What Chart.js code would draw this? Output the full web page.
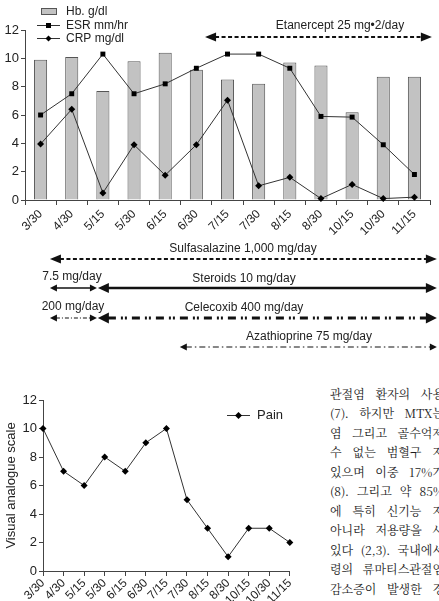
<!DOCTYPE html>
<html>
<head>
<meta charset="utf-8">
<script src="https://cdn.jsdelivr.net/npm/chart.js@4/dist/chart.umd.min.js"></script>
<style>
  html, body { margin: 0; padding: 0; background: #fff; }
  body { width: 439px; height: 601px; position: relative; overflow: hidden; }
  #labChart { position: absolute; left: 0; top: 0; }
  #painChart { position: absolute; left: 0; top: 380px; }
  #koText {
    position: absolute; left: 330px; top: 383.5px; width: 109px; overflow: hidden;
    font-family: "Noto Serif CJK KR", "Noto Sans CJK KR", serif;
    font-size: 12px; line-height: 19.5px; color: #1a1a1a; white-space: nowrap;
  }
  #koText div { width: 114px; text-align: justify; text-align-last: justify; }
</style>
</head>
<body>
<canvas id="labChart" width="439" height="365"></canvas>
<canvas id="painChart" width="300" height="221"></canvas>
<div id="koText"></div>

<script>
// =============================================================================
// DATA
// =============================================================================
const visitDates = ['3/30', '4/30', '5/15', '5/30', '6/15', '6/30', '7/15', '7/30', '8/15', '8/30', '10/15', '10/30', '11/15'];
const hbValues  = [9.9, 10.1, 7.7, 9.8, 10.4, 9.2, 8.5, 8.2, 9.7, 9.5, 6.2, 8.7, 8.7];
const esrValues = [6.0, 7.5, 10.3, 7.5, 8.2, 9.3, 10.3, 10.3, 9.3, 5.9, 5.85, 3.9, 1.8];
const crpValues = [3.95, 6.4, 0.5, 3.9, 1.75, 3.9, 7.05, 1.0, 1.6, 0.1, 1.1, 0.1, 0.2];
const painScores = [10, 7, 6, 8, 7, 9, 10, 5, 3, 1, 3, 3, 2];
const yTicks = [0, 2, 4, 6, 8, 10, 12];

// drug periods, in visit index units (fractional = between visits)
const drugNames = ['Etanercept 25 mg\u20222/day', 'Sulfasalazine 1,000 mg/day', '7.5 mg/day', 'Steroids 10 mg/day',
                   '200 mg/day', 'Celecoxib 400 mg/day', 'Azathioprine 75 mg/day'];
const drugFrom = [5.28, 0.3, 0.3, 1.84, 0.3, 1.84, 4.47];
const drugTo   = [12.56, 12.72, 1.81, 12.72, 1.81, 12.72, 12.72];

const koLines = [
  '관절염 환자의 사용',
  '(7). 하지만 MTX는',
  '염 그리고 골수억제',
  '수 없는 범혈구 저',
  '있으며 이중 17%가',
  '(8). 그리고 약 85%',
  '에 특히 신기능 저',
  '아니라 저용량을 사',
  '있다 (2,3). 국내에서',
  '령의 류마티스관절염',
  '감소증이 발생한 경'
];

// =============================================================================
// STYLE
// =============================================================================
Chart.defaults.font.family = '"Liberation Sans", Arial, sans-serif';
Chart.defaults.color = '#222';
const AXIS = '#444';

// line style of each drug arrow (same order as drugNames)
const drugStyles = [
  { lineY: 37,  textX: 340, textY: 26,  width: 2,   dash: [4, 2.5],          head: 11, half: 4.5 },
  { lineY: 259, textX: 243, textY: 249, width: 2,   dash: [4, 2.5],          head: 11, half: 4.5 },
  { lineY: 288, textX: 72,  textY: 277, width: 1.5, dash: [],                head: 7,  half: 3.5 },
  { lineY: 288, textX: 244, textY: 279, width: 2.5, dash: [],                head: 11, half: 5 },
  { lineY: 318, textX: 73,  textY: 307, width: 1.2, dash: [4, 2, 1, 2],      head: 7,  half: 3.5 },
  { lineY: 318, textX: 244, textY: 308, width: 3,   dash: [8, 5, 2, 2, 2, 5], head: 11, half: 5.5 },
  { lineY: 347, textX: 309, textY: 337, width: 1.2, dash: [6, 3, 1.5, 3],    head: 7,  half: 3.5 }
];

function arrowHead(ctx, x, y, dir, len, half) {
  ctx.beginPath();
  ctx.moveTo(x, y);
  ctx.lineTo(x - dir * len, y - half);
  ctx.lineTo(x - dir * len, y + half);
  ctx.closePath();
  ctx.fill();
}

const drugArrows = {
  id: 'drugArrows',
  afterDraw(chart) {
    const ctx = chart.ctx;
    const x = chart.scales.x;
    ctx.save();
    ctx.fillStyle = '#111';
    ctx.strokeStyle = '#111';
    ctx.font = '12px "Liberation Sans", Arial, sans-serif';
    ctx.textAlign = 'center';
    ctx.textBaseline = 'middle';
    drugNames.forEach((name, i) => {
      const s = drugStyles[i];
      const x1 = x.getPixelForValue(drugFrom[i]);
      const x2 = x.getPixelForValue(drugTo[i]);
      ctx.lineWidth = s.width;
      ctx.setLineDash(s.dash);
      ctx.beginPath();
      ctx.moveTo(x1 + s.head - 1, s.lineY);
      ctx.lineTo(x2 - s.head + 1, s.lineY);
      ctx.stroke();
      ctx.setLineDash([]);
      arrowHead(ctx, x1, s.lineY, -1, s.head, s.half);
      arrowHead(ctx, x2, s.lineY, 1, s.head, s.half);
      ctx.fillStyle = '#222';
      ctx.fillText(name, s.textX, s.textY);
      ctx.fillStyle = '#111';
    });
    ctx.restore();
  }
};

const labLegend = {
  id: 'labLegend',
  afterDraw(chart) {
    const ctx = chart.ctx;
    ctx.save();
    ctx.font = '12px "Liberation Sans", Arial, sans-serif';
    ctx.textBaseline = 'middle';
    // Hb box
    ctx.fillStyle = '#c2c2c2';
    ctx.strokeStyle = '#555';
    ctx.lineWidth = 1;
    ctx.fillRect(41, 8.5, 16, 6);
    ctx.strokeRect(41.5, 8.5, 15, 6);
    // ESR / CRP line samples
    ctx.strokeStyle = '#333';
    [25, 38].forEach(y => {
      ctx.beginPath();
      ctx.moveTo(37, y + 0.5);
      ctx.lineTo(60, y + 0.5);
      ctx.stroke();
    });
    ctx.fillStyle = '#000';
    ctx.fillRect(46, 23, 5, 5);
    ctx.beginPath();
    ctx.moveTo(48.5, 35.5); ctx.lineTo(51.5, 38.5); ctx.lineTo(48.5, 41.5); ctx.lineTo(45.5, 38.5);
    ctx.closePath();
    ctx.fill();
    ctx.fillStyle = '#222';
    ctx.fillText('Hb. g/dl', 66, 11.5);
    ctx.fillText('ESR mm/hr', 66, 25.5);
    ctx.fillText('CRP mg/dl', 66, 38.5);
    ctx.restore();
  }
};

const painLegend = {
  id: 'painLegend',
  afterDraw(chart) {
    const ctx = chart.ctx;
    ctx.save();
    ctx.strokeStyle = '#333';
    ctx.lineWidth = 1;
    ctx.beginPath();
    ctx.moveTo(227, 35.5);
    ctx.lineTo(250, 35.5);
    ctx.stroke();
    ctx.fillStyle = '#000';
    ctx.beginPath();
    ctx.moveTo(238.5, 32); ctx.lineTo(242, 35.5); ctx.lineTo(238.5, 39); ctx.lineTo(235, 35.5);
    ctx.closePath();
    ctx.fill();
    ctx.fillStyle = '#222';
    ctx.font = '13px "Liberation Sans", Arial, sans-serif';
    ctx.textBaseline = 'middle';
    ctx.fillText('Pain', 257, 35.5);
    ctx.restore();
  }
};

function yAxis(width, extra) {
  return Object.assign({
    min: 0, max: 12,
    afterBuildTicks: s => { s.ticks = yTicks.map(v => ({ value: v })); },
    ticks: { font: { size: 13 }, padding: 2 },
    grid: { drawOnChartArea: false, tickLength: 4, color: AXIS },
    border: { color: AXIS },
    afterFit: s => { s.width = width; }
  }, extra || {});
}

// =============================================================================
// CHARTS
// =============================================================================
new Chart(document.getElementById('labChart'), {
  type: 'bar',
  data: {
    labels: visitDates,
    datasets: [
      {
        type: 'line', label: 'ESR mm/hr', data: esrValues, order: 0,
        borderColor: '#333', borderWidth: 1, pointStyle: 'rect', pointRadius: 3.5,
        pointBackgroundColor: '#000', pointBorderColor: '#000', pointBorderWidth: 0, clip: false
      },
      {
        type: 'line', label: 'CRP mg/dl', data: crpValues, order: 1,
        borderColor: '#333', borderWidth: 1, pointStyle: 'rectRot', pointRadius: 3.5,
        pointBackgroundColor: '#000', pointBorderColor: '#000', pointBorderWidth: 0, clip: false
      },
      {
        type: 'bar', label: 'Hb. g/dl', data: hbValues, order: 2,
        backgroundColor: '#c2c2c2', borderColor: '#555', borderWidth: 1,
        barPercentage: 0.42, categoryPercentage: 1
      }
    ]
  },
  options: {
    responsive: false,
    animation: false,
    layout: { padding: { top: 30, right: 9, left: 0, bottom: 0 } },
    plugins: { legend: { display: false }, tooltip: { enabled: false } },
    scales: {
      x: {
        grid: { drawOnChartArea: false, tickLength: 5, color: AXIS },
        border: { color: AXIS },
        ticks: { minRotation: 45, maxRotation: 45, autoSkip: false, font: { size: 12 }, padding: 2 },
        afterFit: s => { s.height = 165; }
      },
      y: yAxis(25)
    }
  },
  plugins: [labLegend, drugArrows]
});

new Chart(document.getElementById('painChart'), {
  type: 'line',
  data: {
    labels: visitDates,
    datasets: [{
      label: 'Pain', data: painScores,
      borderColor: '#333', borderWidth: 1, pointStyle: 'rectRot', pointRadius: 3.5,
      pointBackgroundColor: '#000', pointBorderColor: '#000', pointBorderWidth: 0, clip: false
    }]
  },
  options: {
    responsive: false,
    animation: false,
    layout: { padding: { top: 20, right: 7, left: 0, bottom: 0 } },
    plugins: { legend: { display: false }, tooltip: { enabled: false } },
    scales: {
      x: {
        offset: false,
        grid: { offset: false, drawOnChartArea: false, tickLength: 5, color: AXIS },
        border: { color: AXIS },
        ticks: { minRotation: 45, maxRotation: 45, autoSkip: false, font: { size: 12 }, padding: 0 },
        afterFit: s => { s.height = 30; }
      },
      y: yAxis(43, {
        title: { display: true, text: 'Visual analogue scale', font: { size: 13 }, color: '#222', padding: { top: 4, bottom: 0 } }
      })
    }
  },
  plugins: [painLegend]
});

document.getElementById('koText').innerHTML = koLines.map(t => '<div>' + t + '</div>').join('');
</script>
</body>
</html>
